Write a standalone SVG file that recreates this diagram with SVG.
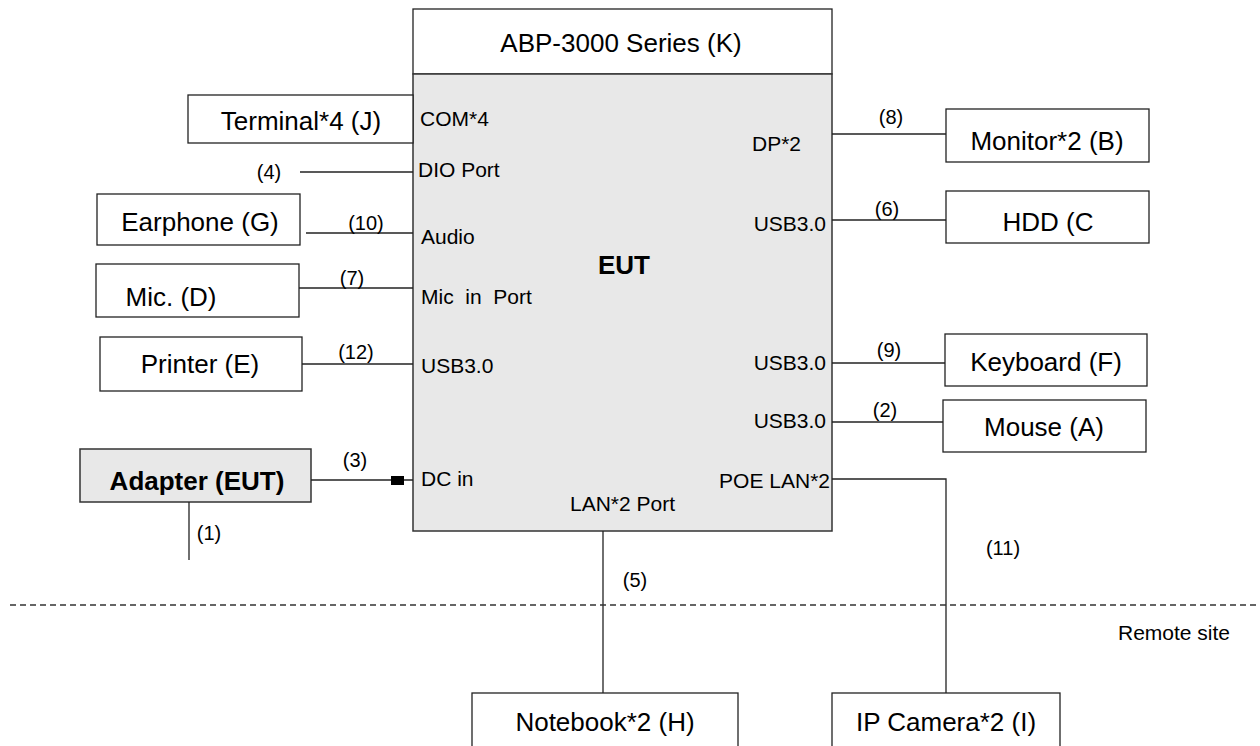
<svg xmlns="http://www.w3.org/2000/svg" width="1260" height="746" viewBox="0 0 1260 746">
<style>
.box{fill:#fff;stroke:#222;stroke-width:1.3}
.gbox{fill:#e8e8e8;stroke:#333;stroke-width:1.5}
.big{font-family:"Liberation Sans",Arial,sans-serif;font-size:26px;fill:#000;text-anchor:middle}
.bold{font-weight:bold}
.sm{font-family:"Liberation Sans",Arial,sans-serif;font-size:21px;fill:#000}
.lbl{font-family:"Liberation Sans",Arial,sans-serif;font-size:20px;fill:#000;text-anchor:middle}
.ln{stroke:#222;stroke-width:1.3;fill:none}
.end{text-anchor:end}
</style>
<rect width="1260" height="746" fill="#fff"/>
<g id="K"><rect class="box" x="413" y="9" width="419" height="65"/><text class="big" x="621" y="52">ABP-3000 Series (K)</text></g>
<g id="EUT">
<rect class="gbox" x="413" y="74" width="419" height="457"/>
<text class="big bold" x="624" y="274">EUT</text>
<text class="sm" x="420" y="126">COM*4</text>
<text class="sm" x="418" y="177">DIO Port</text>
<text class="sm" x="421" y="244">Audio</text>
<text class="sm" x="421" y="304" xml:space="preserve">Mic  in  Port</text>
<text class="sm" x="421" y="373">USB3.0</text>
<text class="sm" x="421" y="486">DC in</text>
<text class="sm end" x="801" y="151">DP*2</text>
<text class="sm end" x="826" y="231">USB3.0</text>
<text class="sm end" x="826" y="370">USB3.0</text>
<text class="sm end" x="826" y="428">USB3.0</text>
<text class="sm end" x="830" y="488">POE LAN*2</text>
<text class="sm" x="570" y="511">LAN*2 Port</text>
</g>
<g id="J"><rect class="box" x="188" y="95" width="225" height="48"/><text class="big" x="301" y="130">Terminal*4 (J)</text></g>
<g id="G"><rect class="box" x="97" y="194" width="203" height="51"/><text class="big" x="200" y="231">Earphone (G)</text></g>
<g id="D"><rect class="box" x="96" y="264" width="203" height="53"/><text class="big" x="171" y="306">Mic. (D)</text></g>
<g id="E"><rect class="box" x="100" y="337" width="202" height="54"/><text class="big" x="200" y="373">Printer (E)</text></g>
<g id="Adapter"><rect class="gbox" x="80" y="449" width="231" height="53"/><text class="big bold" x="197" y="490">Adapter (EUT)</text></g>
<g id="B"><rect class="box" x="946" y="109" width="203" height="53"/><text class="big" x="1047" y="150">Monitor*2 (B)</text></g>
<g id="C"><rect class="box" x="946" y="191" width="203" height="52"/><text class="big" x="1048" y="231">HDD (C</text></g>
<g id="F"><rect class="box" x="945" y="334" width="202" height="52"/><text class="big" x="1046" y="371">Keyboard (F)</text></g>
<g id="A"><rect class="box" x="943" y="400" width="203" height="52"/><text class="big" x="1044" y="436">Mouse (A)</text></g>
<g id="H"><rect class="box" x="472" y="693" width="266" height="60"/><text class="big" x="605" y="731">Notebook*2 (H)</text></g>
<g id="I"><rect class="box" x="832" y="693" width="228" height="60"/><text class="big" x="946" y="731">IP Camera*2 (I)</text></g>
<g id="connectors">
<line class="ln" x1="300" y1="172" x2="413" y2="172"/>
<line class="ln" x1="306" y1="233" x2="413" y2="233"/>
<line class="ln" x1="299" y1="288" x2="413" y2="288"/>
<line class="ln" x1="302" y1="364" x2="413" y2="364"/>
<line class="ln" x1="311" y1="480" x2="413" y2="480"/>
<rect x="391" y="476" width="13" height="9" fill="#000"/>
<line class="ln" x1="189" y1="502" x2="189" y2="560"/>
<line class="ln" x1="832" y1="134" x2="946" y2="134"/>
<line class="ln" x1="832" y1="220" x2="946" y2="220"/>
<line class="ln" x1="832" y1="363" x2="945" y2="363"/>
<line class="ln" x1="832" y1="422" x2="943" y2="422"/>
<polyline class="ln" points="832,479 946,479 946,693"/>
<line class="ln" x1="603" y1="531" x2="603" y2="693"/>
<line x1="10" y1="605" x2="1260" y2="605" stroke="#333" stroke-width="1.3" stroke-dasharray="6,4"/>
<text class="lbl" x="269" y="179">(4)</text>
<text class="lbl" x="366" y="230">(10)</text>
<text class="lbl" x="352" y="285">(7)</text>
<text class="lbl" x="356" y="359">(12)</text>
<text class="lbl" x="355" y="467">(3)</text>
<text class="lbl" x="209" y="540">(1)</text>
<text class="lbl" x="891" y="124">(8)</text>
<text class="lbl" x="887" y="216">(6)</text>
<text class="lbl" x="889" y="357">(9)</text>
<text class="lbl" x="885" y="417">(2)</text>
<text class="lbl" x="1003" y="555">(11)</text>
<text class="lbl" x="635" y="587">(5)</text>
<text class="sm" x="1118" y="640">Remote site</text>
</g>
</svg>
